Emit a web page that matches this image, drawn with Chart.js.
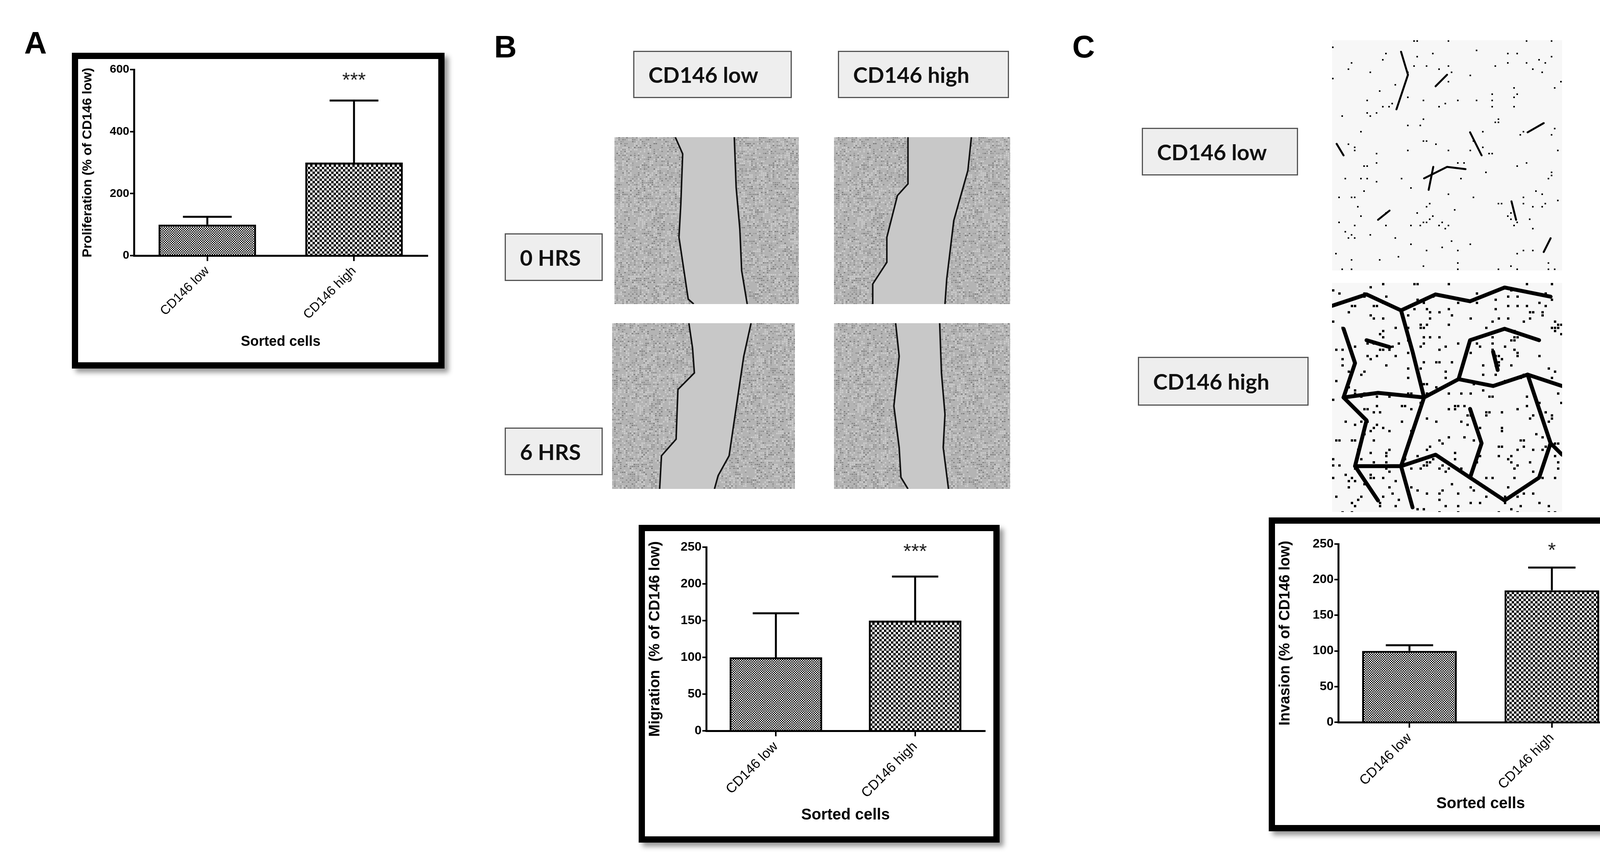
<!DOCTYPE html>
<html><head><meta charset="utf-8">
<script src="https://cdn.jsdelivr.net/npm/chart.js@4.4.1/dist/chart.umd.min.js"></script>
<style>
body{margin:0;width:4231px;height:2221px;background:#fff;position:relative;overflow:hidden;font-family:"Liberation Sans",Arial,sans-serif}
.abs{position:absolute}
.box{position:absolute;border:16px solid #000;background:#fff;box-shadow:10px 10px 12px #999;box-sizing:border-box}
.box canvas{position:absolute;left:0;top:0}
.lab{position:absolute;background:#eee;border:3px solid #555;box-sizing:border-box;font-family:Lato,"Open Sans",sans-serif;font-weight:bold;font-size:56px;display:flex;align-items:center;padding-left:36px;color:#111}
.letter{position:absolute;font-weight:bold;font-size:80px;font-family:"Liberation Sans",Arial,sans-serif;line-height:1}
</style></head><body>
<div class="letter" style="left:62px;top:70px">A</div>
<div class="letter" style="left:1265px;top:80px">B</div>
<div class="letter" style="left:2745px;top:80px">C</div>

<div class="box" style="left:184px;top:135px;width:954px;height:808px"><canvas id="cA"></canvas></div>
<div class="box" style="left:1635px;top:1343px;width:924px;height:813px"><canvas id="cB"></canvas></div>
<div class="box" style="left:3248px;top:1324px;width:935px;height:803px"><canvas id="cC"></canvas></div>

<div class="lab" style="left:1621px;top:130px;width:406px;height:121px">CD146 low</div>
<div class="lab" style="left:2145px;top:130px;width:438px;height:121px">CD146 high</div>
<div class="lab" style="left:1292px;top:597px;width:251px;height:122px">0 HRS</div>
<div class="lab" style="left:1292px;top:1094px;width:251px;height:122px">6 HRS</div>
<div class="lab" style="left:2923px;top:327px;width:400px;height:122px">CD146 low</div>
<div class="lab" style="left:2913px;top:913px;width:437px;height:125px">CD146 high</div>

<canvas class="abs" id="p1" style="left:1573px;top:351px" width="472" height="427"></canvas>
<canvas class="abs" id="p2" style="left:2135px;top:351px" width="451" height="427"></canvas>
<canvas class="abs" id="p3" style="left:1567px;top:827px" width="468" height="424"></canvas>
<canvas class="abs" id="p4" style="left:2135px;top:827px" width="451" height="424"></canvas>
<canvas class="abs" id="p5" style="left:3410px;top:103px" width="589" height="589"></canvas>
<canvas class="abs" id="p6" style="left:3410px;top:724px" width="589" height="586"></canvas>

<script>
// ---- data ----
const categories = ["CD146 low", "CD146 high"];
const proliferation = [100, 300];
const proliferationErr = [125, 500];
const proliferationTicks = [0, 200, 400, 600];
const migration = [100, 150];
const migrationErr = [160, 210];
const migrationTicks = [0, 50, 100, 150, 200, 250];
const invasion = [100, 185];
const invasionErr = [108, 217];
const invasionTicks = [0, 50, 100, 150, 200, 250];
const stars = ["", "***"];
const starsC = ["", "*"];

function checker(cell){
  const c=document.createElement('canvas');c.width=c.height=cell*2;
  const g=c.getContext('2d');g.fillStyle='#fff';g.fillRect(0,0,cell*2,cell*2);
  g.fillStyle='#000';g.fillRect(0,0,cell,cell);g.fillRect(cell,cell,cell,cell);
  return document.createElement('canvas').getContext('2d').createPattern(c,'repeat');
}
const errPlugin={
  id:'err',
  afterDatasetsDraw(chart,args,opts){
    const ctx=chart.ctx,meta=chart.getDatasetMeta(0),ys=chart.scales.y;
    ctx.save();ctx.strokeStyle='#000';ctx.lineWidth=5;
    meta.data.forEach((bar,i)=>{
      const x=bar.x,w=bar.width,yt=ys.getPixelForValue(opts.err[i]),yb=ys.getPixelForValue(chart.data.datasets[0].data[i]);
      ctx.beginPath();ctx.moveTo(x,yb);ctx.lineTo(x,yt);ctx.moveTo(x-w*0.25,yt);ctx.lineTo(x+w*0.25,yt);ctx.stroke();
      if(opts.stars[i]){ctx.fillStyle='#222';ctx.font='52px "Liberation Sans"';ctx.textAlign='center';ctx.textBaseline='middle';ctx.fillText(opts.stars[i],x,yt-opts.starOff);}
    });
    ctx.restore();
  }
};
function make(id,w,h,vals,err,ticks,title,st,yW,xH,top,right,starOff,tickFont,titleFont){
  const cv=document.getElementById(id);cv.width=w;cv.height=h;
  new Chart(cv,{type:'bar',
    data:{labels:categories,datasets:[{data:vals,backgroundColor:[checker(3),checker(6)],borderColor:'#000',borderWidth:5,barPercentage:0.665,categoryPercentage:1}]},
    options:{responsive:false,animation:false,devicePixelRatio:1,layout:{padding:{left:0,top:top,right:right,bottom:0}},
      plugins:{legend:{display:false},tooltip:{enabled:false},err:{err:err,stars:st,starOff:starOff}},
      scales:{
        x:{offset:true,afterFit:s=>{s.height=xH;},grid:{display:true,drawOnChartArea:false,offset:false,tickLength:14,color:'#000',lineWidth:4},border:{color:'#000',width:5},
           ticks:{color:'#000',font:{family:'Liberation Sans',size:tickFont+3},maxRotation:45,minRotation:45,padding:6},
           title:{display:true,text:'Sorted cells',color:'#000',font:{family:'Liberation Sans',size:titleFont+2,weight:'bold'},padding:{top:4,bottom:30}}},
        y:{min:0,max:ticks[ticks.length-1],afterFit:s=>{s.width=yW;},afterBuildTicks:a=>{a.ticks=ticks.map(v=>({value:v}));},
           grid:{display:true,drawOnChartArea:false,tickLength:10,color:'#000',lineWidth:4},border:{color:'#000',width:5},
           ticks:{color:'#000',font:{family:'Liberation Sans',size:tickFont,weight:'bold'},padding:2},
           title:{display:true,text:title,color:'#000',font:{family:'Liberation Sans',size:titleFont,weight:'bold'},padding:{bottom:6}}}
      }},
    plugins:[errPlugin]});
}
make('cA',922,776,proliferation,proliferationErr,proliferationTicks,'Proliferation (% of CD146 low)',stars,143,273,27,28,50,30,34);
make('cB',892,781,migration,migrationErr,migrationTicks,'Migration  (% of CD146 low)',stars,157,270,41,22,62,32,38);
make('cC',903,771,invasion,invasionErr,invasionTicks,'Invasion (% of CD146 low)',starsC,162,263,52,12,42,32,38);

// ---- decorative micrograph stand-ins ----
function hash(x,y){const v=Math.sin(x*12.9898+y*78.233)*43758.5453;return v-Math.floor(v);}
function wound(id,l1,l2){
  const c=document.getElementById(id),g=c.getContext('2d'),W=c.width,H=c.height;
  g.fillStyle='#b4b4b4';g.fillRect(0,0,W,H);
  for(let y=0;y<H;y+=5)for(let x=0;x<W;x+=5){const f=hash(x,y);if(f>0.72){g.fillStyle='rgba(30,30,30,'+(f-0.62)+')';g.fillRect(x,y,4,3);} else if(f<0.25){g.fillStyle='rgba(225,225,225,0.5)';g.fillRect(x,y,4,4);}}
  g.fillStyle='#c8c8c8';g.beginPath();
  l1.forEach((p,i)=>{const x=p[0]*W,y=p[1]*H;i?g.lineTo(x,y):g.moveTo(x,y);});
  l2.slice().reverse().forEach(p=>g.lineTo(p[0]*W,p[1]*H));g.closePath();g.fill();
  g.strokeStyle='#111';g.lineWidth=4;
  [l1,l2].forEach(l=>{g.beginPath();l.forEach((p,i)=>{const x=p[0]*W,y=p[1]*H;i?g.lineTo(x,y):g.moveTo(x,y);});g.stroke();});
}
wound('p1',[[0.33,0],[0.37,0.1],[0.36,0.4],[0.35,0.6],[0.4,0.97],[0.43,1]],[[0.65,0],[0.66,0.3],[0.68,0.55],[0.69,0.8],[0.72,1]]);
wound('p2',[[0.42,0],[0.42,0.28],[0.36,0.35],[0.3,0.6],[0.3,0.75],[0.22,0.88],[0.22,1]],[[0.78,0],[0.76,0.2],[0.68,0.5],[0.64,0.85],[0.63,1]]);
wound('p3',[[0.42,0],[0.44,0.15],[0.45,0.3],[0.36,0.4],[0.35,0.7],[0.27,0.8],[0.26,1]],[[0.76,0],[0.72,0.2],[0.68,0.5],[0.64,0.8],[0.58,0.92],[0.56,1]]);
wound('p4',[[0.35,0],[0.37,0.2],[0.34,0.5],[0.37,0.75],[0.38,0.93],[0.42,1]],[[0.6,0],[0.61,0.3],[0.63,0.55],[0.62,0.75],[0.65,1]]);
function inv(id,dense,paths){
  const c=document.getElementById(id),g=c.getContext('2d'),W=c.width,H=c.height;
  g.fillStyle='#f7f7f7';g.fillRect(0,0,W,H);g.fillStyle='#000';g.strokeStyle='#000';g.lineCap='round';g.lineJoin='round';
  for(let y=0;y<H;y+=8)for(let x=0;x<W;x+=8){const f=hash(x,y);if(f>(dense?0.93:0.965)){g.fillRect(x,y,dense?6:4,dense?6:4);} }
  g.lineWidth=dense?10:5;
  paths.forEach(p=>{g.beginPath();p.forEach((q,i)=>{i?g.lineTo(q[0]*W,q[1]*H):g.moveTo(q[0]*W,q[1]*H);});g.stroke();});
}
inv('p5',false,[[[0.3,0.05],[0.33,0.15],[0.28,0.3]],[[0.45,0.2],[0.5,0.15]],[[0.6,0.4],[0.65,0.5]],[[0.4,0.6],[0.5,0.55],[0.58,0.56]],[[0.85,0.4],[0.92,0.36]],[[0.2,0.78],[0.25,0.74]],[[0.92,0.92],[0.95,0.86]],[[0.02,0.45],[0.05,0.5]],[[0.44,0.55],[0.42,0.65]],[[0.78,0.7],[0.8,0.78]]]);
inv('p6',true,[
 [[0,0.1],[0.15,0.05],[0.3,0.12],[0.45,0.05],[0.6,0.08],[0.75,0.02],[0.95,0.06]],
 [[0.05,0.2],[0.1,0.35],[0.05,0.5],[0.15,0.6],[0.1,0.8],[0.2,0.95]],
 [[0.3,0.12],[0.35,0.3],[0.4,0.5],[0.35,0.65],[0.3,0.8],[0.35,0.98]],
 [[0.05,0.5],[0.2,0.48],[0.4,0.5],[0.55,0.42],[0.7,0.45],[0.85,0.4],[1,0.45]],
 [[0.55,0.42],[0.6,0.25],[0.75,0.2],[0.9,0.25]],
 [[0.6,0.55],[0.65,0.7],[0.6,0.85],[0.75,0.95],[0.9,0.85],[0.95,0.7]],
 [[0.1,0.8],[0.3,0.8],[0.45,0.75],[0.6,0.85]],
 [[0.85,0.4],[0.9,0.55],[0.95,0.7],[1,0.75]],
 [[0.15,0.25],[0.25,0.28]],[[0.7,0.3],[0.72,0.38]]]);
</script></body></html>
